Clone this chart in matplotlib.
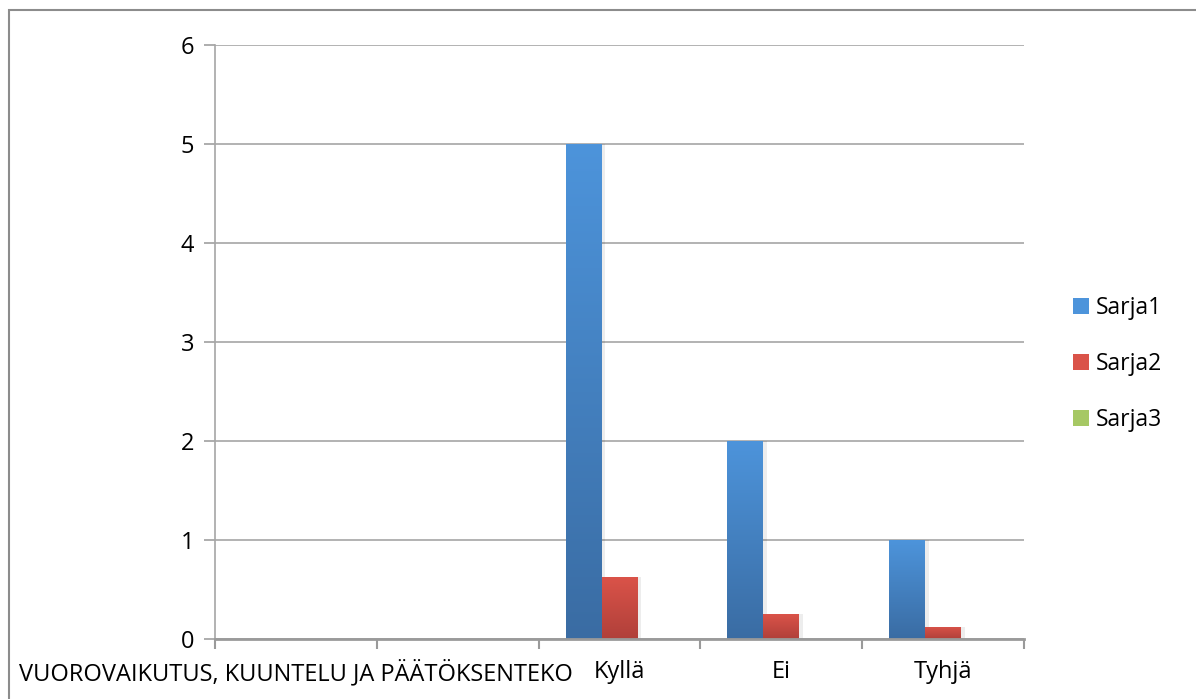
import matplotlib
matplotlib.use("Agg")
import matplotlib.pyplot as plt
import numpy as np
from matplotlib.colors import LinearSegmentedColormap
from matplotlib.patches import Rectangle

categories = ["VUOROVAIKUTUS, KUUNTELU JA PÄÄTÖKSENTEKO", "", "Kyllä", "Ei", "Tyhjä"]
series_names = ["Sarja1", "Sarja2", "Sarja3"]
sarja1 = [0, 0, 5, 2, 1]
sarja2 = [0, 0, 0.625, 0.25, 0.125]
sarja3 = [0, 0, 0, 0, 0]
y_ticks = [0, 1, 2, 3, 4, 5, 6]

top_colors = ["#4D94DB", "#DA5349", "#A6C864"]
bottom_colors = ["#3A6CA3", "#B0403A", "#7E9C44"]

plt.rcParams['font.family'] = ['Open Sans', 'DejaVu Sans']

fig = plt.figure(figsize=(11.96, 6.99), dpi=100)
ax = fig.add_axes([215/1196, 1-639/699, (1024-215)/1196, (639-45)/699])

n = len(categories)
x = np.arange(n)
width = 1/4.5
data = [sarja1, sarja2, sarja3]
handles = []
for i, vals in enumerate(data):
    offs = (i - 1) * width
    bars = ax.bar(x + offs, vals, width, color=top_colors[i], edgecolor='none',
                  label=series_names[i], zorder=3)
    cmap = LinearSegmentedColormap.from_list(f"g{i}", [bottom_colors[i], top_colors[i]])
    grad = np.linspace(0, 1, 256).reshape(-1, 1)
    for b in bars:
        h = b.get_height()
        if h <= 0:
            continue
        x0 = b.get_x()
        w = b.get_width()
        ax.add_patch(Rectangle((x0 + 0.01, 0), w + 0.012, h, facecolor='#000000',
                               alpha=0.07, edgecolor='none', zorder=2.5))
        im = ax.imshow(grad, extent=[x0, x0 + w, 0, h], origin='lower', aspect='auto',
                       cmap=cmap, zorder=3.5)
        im.set_clip_path(b)
    handles.append(Rectangle((0, 0), 1, 1, facecolor=top_colors[i]))

ax.set_xlim(-0.5, n - 0.5)
ax.set_ylim(0, 6)
ax.set_yticks(y_ticks)
ax.set_yticklabels([str(t) for t in y_ticks])
ax.set_xticks(x)
ax.set_xticklabels(categories)
ax.set_xticks(np.arange(-0.5, n, 1.0), minor=True)
ax.tick_params(axis='x', which='major', length=0, pad=15, labelsize=17)
ax.tick_params(axis='x', which='minor', length=7, width=1.5, color='#9A9A9A', direction='out')
ax.tick_params(axis='y', length=8, width=1.2, color='#A0A0A0', direction='out', pad=7, labelsize=17)

ax.grid(axis='y', color='#A6A6A6', linewidth=1.2, zorder=0)
ax.set_axisbelow(True)
for s in ['top', 'right']:
    ax.spines[s].set_visible(False)
ax.spines['left'].set_color('#A6A6A6')
ax.spines['left'].set_linewidth(1.2)
ax.spines['bottom'].set_color('#9A9A9A')
ax.spines['bottom'].set_linewidth(2)
ax.spines['bottom'].set_zorder(5)

leg = fig.legend(handles, series_names, loc='upper left', bbox_to_anchor=(1052/1196, 1-275/699),
                 frameon=False, fontsize=16.5, handlelength=0.7, handleheight=0.7,
                 handletextpad=0.3, labelspacing=1.4)

fig.add_artist(Rectangle((9/1196, -0.05), 1.2, 1 - 9.5/699 + 0.05, transform=fig.transFigure,
                         facecolor='none', edgecolor='#8C8C8C', linewidth=1.5))

fig.savefig("out.png", dpi=100)
